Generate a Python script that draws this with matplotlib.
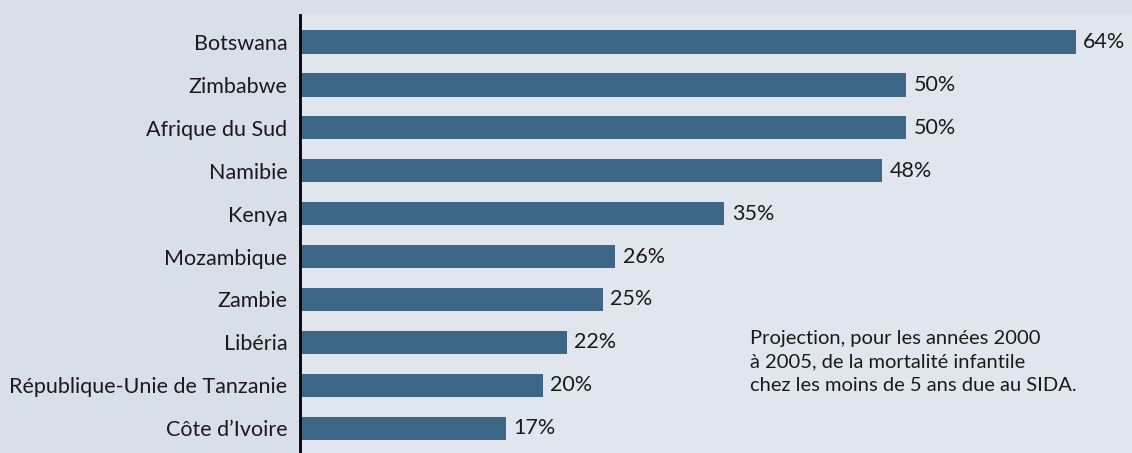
import matplotlib.pyplot as plt

countries = ['Botswana', 'Zimbabwe', 'Afrique du Sud', 'Namibie', 'Kenya',
             'Mozambique', 'Zambie', 'Libéria', 'République-Unie de Tanzanie',
             "Côte d’Ivoire"]
values = [64, 50, 50, 48, 35, 26, 25, 22, 20, 17]

plt.rcParams['font.family'] = ['Lato', 'DejaVu Sans']

fig = plt.figure(figsize=(11.32, 4.53), dpi=100)
fig.patch.set_facecolor('#d8dfe8')
ax = fig.add_axes([300 / 1132, 0, 832 / 1132, 438 / 453])
ax.set_facecolor('#e1e6ee')

y = list(range(len(countries)))
ax.barh(y, values, height=0.54, color='#3c6786')
for yi, v in zip(y, values):
    ax.text(v + 0.6, yi, f'{v}%', va='center', ha='left', fontsize=15.5, color='#1a1a1a')

ax.set_xlim(0, 832 / 12.125)
ax.set_ylim(9.58, -0.63)
ax.set_yticks(y)
ax.set_yticklabels(countries, fontsize=15.5, color='#1a1a1a')
ax.tick_params(axis='y', length=0, pad=9)
ax.set_xticks([])
for s in ['top', 'right', 'bottom']:
    ax.spines[s].set_visible(False)
ax.spines['left'].set_linewidth(2)
ax.spines['left'].set_color('black')

ax.text(37.1, 6.72, 'Projection, pour les années 2000\nà 2005, de la mortalité infantile\nchez les moins de 5 ans due au SIDA.',
        fontsize=14.5, va='top', ha='left', linespacing=1.45, color='#1a1a1a')

fig.savefig('out.png', dpi=100, facecolor=fig.get_facecolor())
